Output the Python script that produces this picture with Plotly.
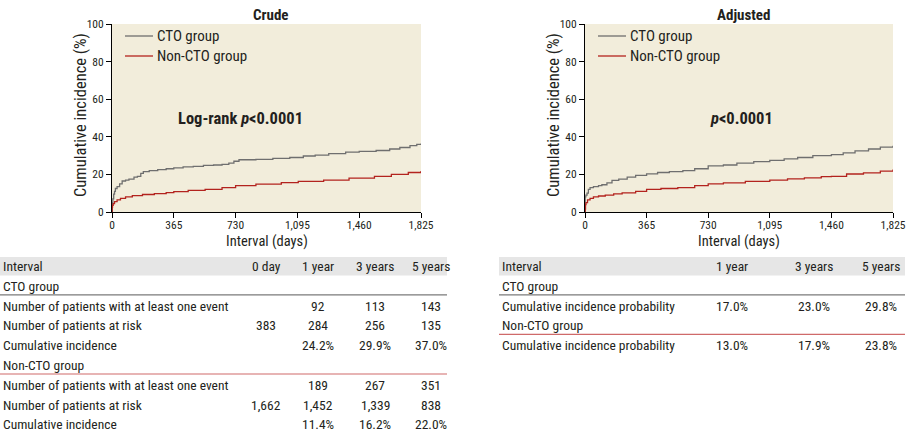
import plotly.graph_objects as go

# ---------------- data ----------------
crude_cto_days = [0, 2, 5, 10, 15, 20, 30, 45, 60, 80, 100, 130, 150, 170, 185, 220, 270, 320, 365, 420,
                  480, 540, 600, 650, 690, 720, 750, 850, 950, 1050, 1130, 1200, 1280, 1380, 1460, 1560,
                  1640, 1700, 1760, 1800, 1825]
crude_cto_vals = [0, 5, 7, 9.5, 11, 12.5, 13.5, 15, 16.5, 17, 17.5, 18.5, 19, 20.5, 21.5, 22, 22.5, 23, 23.5, 24,
                  24.3, 24.8, 25, 25.3, 26, 27, 27.8, 28, 28.5, 29, 29.8, 30.3, 31, 31.8, 32.3, 32.7,
                  33.5, 34.3, 35.3, 36, 36.5]

crude_non_days = [0, 1, 3, 7, 15, 30, 50, 80, 120, 180, 250, 320, 365, 450, 550, 650, 730, 850, 1000, 1100,
                  1250, 1400, 1550, 1650, 1750, 1825]
crude_non_vals = [0, 2.5, 3.5, 4.5, 5.5, 6.5, 7.3, 8, 8.7, 9.3, 9.8, 10.3, 10.8, 11.5, 12, 13, 14, 14.8, 15.6, 16.3,
                  17, 18, 19, 20, 21, 21.8]

adj_cto_days = [0, 1, 5, 12, 20, 30, 50, 80, 100, 130, 160, 200, 250, 300, 365, 430, 500, 580, 650, 730,
                820, 900, 1000, 1095, 1180, 1260, 1350, 1460, 1530, 1600, 1680, 1750, 1825]
adj_cto_vals = [0, 8, 9, 10, 12, 13, 13.5, 14, 14.5, 15.5, 16.8, 17.5, 18.5, 19.5, 20.3, 21, 21.5, 22, 23, 24.5,
                25, 26, 26.8, 27.5, 28.3, 29, 30, 30.5, 31.5, 32.5, 33.5, 34.5, 35.2]

adj_non_days = [0, 1, 3, 6, 15, 30, 50, 80, 120, 170, 220, 300, 365, 450, 550, 650, 730, 820, 950, 1095,
                1200, 1300, 1400, 1460, 1550, 1650, 1750, 1825]
adj_non_vals = [0, 1.5, 4, 5, 6.5, 7.3, 8, 8.5, 9, 9.6, 10.2, 11, 12, 12.5, 13, 14, 15, 15.5, 16.3, 17,
                17.6, 18.2, 18.8, 19, 20.2, 20.8, 21.7, 22.6]

x_tickvals = [0, 365, 730, 1095, 1460, 1825]
x_ticktext = ["0", "365", "730", "1,095", "1,460", "1,825"]
y_tickvals = [0, 20, 40, 60, 80, 100]

series_names = ["CTO group", "Non-CTO group"]

left_header = ["Interval", "0 day", "1 year", "3 years", "5 years"]
left_rows = [
    ("CTO group", None),
    ("Number of patients with at least one event", ["", "92", "113", "143"]),
    ("Number of patients at risk", ["383", "284", "256", "135"]),
    ("Cumulative incidence", ["", "24.2%", "29.9%", "37.0%"]),
    ("Non-CTO group", None),
    ("Number of patients with at least one event", ["", "189", "267", "351"]),
    ("Number of patients at risk", ["1,662", "1,452", "1,339", "838"]),
    ("Cumulative incidence", ["", "11.4%", "16.2%", "22.0%"]),
]
right_header = ["Interval", "1 year", "3 years", "5 years"]
right_rows = [
    ("CTO group", None),
    ("Cumulative incidence probability", ["17.0%", "23.0%", "29.8%"]),
    ("Non-CTO group", None),
    ("Cumulative incidence probability", ["13.0%", "17.9%", "23.8%"]),
]

# ---------------- styling ----------------
W, H = 910, 434
FONT = "Roboto Condensed, sans-serif"
TXT = "#231f20"
GRAY = "#6f6f6f"
RED = "#b3231e"
BG = "#f2eddb"
TS = 13.5  # table font size


def px(x):
    return x / W


def py(y):
    return 1 - y / H


fig = go.Figure()

panels = [
    dict(xa="x", ya="y", x0=112, x1=421, title="Crude", ptext="Log-rank <i>p</i><0.0001",
         ptx=240, cto=(crude_cto_days, crude_cto_vals), non=(crude_non_days, crude_non_vals)),
    dict(xa="x2", ya="y2", x0=585, x1=893, title="Adjusted", ptext="<i>p</i><0.0001",
         ptx=741, cto=(adj_cto_days, adj_cto_vals), non=(adj_non_days, adj_non_vals)),
]
Y_TOP, Y_BOT = 24, 212

annotations = []
shapes = []

for i, p in enumerate(panels):
    for (d, v), name, col in [(p["cto"], series_names[0], GRAY), (p["non"], series_names[1], RED)]:
        fig.add_trace(go.Scatter(x=d, y=v, mode="lines", line=dict(color=col, width=1.3, shape="hv"),
                                 name=name, xaxis=p["xa"], yaxis=p["ya"], showlegend=False,
                                 hoverinfo="skip"))
    axkey = "" if i == 0 else "2"
    fig.update_layout(**{
        "xaxis" + axkey: dict(domain=[px(p["x0"]), px(p["x1"])], range=[0, 1825], anchor="y" + axkey,
                              tickvals=x_tickvals, ticktext=x_ticktext, ticks="outside", ticklen=5,
                              tickcolor="black", showline=True, linecolor="black", linewidth=1,
                              showgrid=False, zeroline=False, automargin=False, ticklabelstandoff=-3,
                              tickfont=dict(size=11.5, color=TXT, family=FONT),
                              fixedrange=True),
        "yaxis" + axkey: dict(domain=[py(Y_BOT), py(Y_TOP)], range=[0, 100], anchor="x" + axkey,
                              tickvals=y_tickvals, ticks="outside", ticklen=5, tickcolor="black",
                              showline=True, linecolor="black", linewidth=1, showgrid=False, zeroline=False,
                              automargin=False,
                              tickfont=dict(size=11.5, color=TXT, family=FONT),
                              fixedrange=True),
    })
    # x-axis title
    annotations.append(dict(text="Interval (days)", x=px((p["x0"] + p["x1"]) / 2), y=py(241),
                            xref="paper", yref="paper", showarrow=False,
                            xanchor="center", yanchor="middle", font=dict(size=14.5, color=TXT, family=FONT)))
    # y-axis title
    annotations.append(dict(text="Cumulative incidence (%)", x=px(p["x0"] - 32), y=py((Y_TOP + Y_BOT) / 2 - 3),
                            xref="paper", yref="paper", showarrow=False, textangle=-90,
                            xanchor="center", yanchor="middle", font=dict(size=16.5, color=TXT, family=FONT)))
    # title
    annotations.append(dict(text="<b>%s</b>" % p["title"], x=px((p["x0"] + p["x1"]) / 2 + 4), y=py(15),
                            xref="paper", yref="paper", showarrow=False, xanchor="center", yanchor="middle",
                            font=dict(size=15, color=TXT, family=FONT)))
    # p value
    annotations.append(dict(text="<b>%s</b>" % p["ptext"], x=px(p["ptx"]), y=py(118), xref="paper",
                            yref="paper", showarrow=False, xanchor="center", yanchor="middle",
                            font=dict(size=16.5, color=TXT, family=FONT)))
    # legend
    for k, (name, col) in enumerate(zip(series_names, [GRAY, RED])):
        ly = 36 + k * 20
        shapes.append(dict(type="line", xref="paper", yref="paper", x0=px(p["x0"] + 13), x1=px(p["x0"] + 41),
                           y0=py(ly), y1=py(ly), line=dict(color=col, width=1.3)))
        annotations.append(dict(text=name, x=px(p["x0"] + 43), y=py(ly), xref="paper", yref="paper",
                                showarrow=False, xanchor="left", yanchor="middle",
                                font=dict(size=15, color=TXT, family=FONT)))

fig.update_layout(plot_bgcolor=BG)


# ---------------- tables ----------------
def table(header, rows, x_left, x_right, col_centers, row0=266, step=19.8):
    shapes.append(dict(type="rect", xref="paper", yref="paper", x0=px(x_left - 3), x1=px(x_right),
                       y0=py(257), y1=py(275.5), fillcolor="#e6e6e6", line=dict(width=0), layer="below"))
    annotations.append(dict(text=header[0], x=px(x_left - 2), y=py(row0), xref="paper", yref="paper",
                            showarrow=False, xanchor="left", yanchor="middle",
                            font=dict(size=TS, color=TXT, family=FONT)))
    for c, h in zip(col_centers, header[1:]):
        annotations.append(dict(text=h, x=px(c), y=py(row0), xref="paper", yref="paper", showarrow=False,
                                xanchor="center", yanchor="middle", font=dict(size=TS, color=TXT, family=FONT)))
    for r, (label, vals) in enumerate(rows):
        yy = row0 + (r + 1) * step
        annotations.append(dict(text=label, x=px(x_left - 2), y=py(yy), xref="paper", yref="paper",
                                showarrow=False, xanchor="left", yanchor="middle",
                                font=dict(size=TS, color=TXT, family=FONT)))
        if vals:
            for c, v in zip(col_centers, vals):
                if v:
                    annotations.append(dict(text=v, x=px(c), y=py(yy), xref="paper", yref="paper",
                                            showarrow=False, xanchor="center", yanchor="middle",
                                            font=dict(size=TS, color=TXT, family=FONT)))
        if vals is None:
            ly = yy + 9
            col = "#7a7a7a" if r == 0 else "#cf6a6a"
            shapes.append(dict(type="line", xref="paper", yref="paper", x0=px(x_left - 3), x1=px(x_right),
                               y0=py(ly), y1=py(ly), line=dict(color=col, width=1.2)))


table(left_header, left_rows, 3, 447, [266, 318, 375, 431])
table(right_header, right_rows, 502, 905, [732, 814, 881])

fig.update_layout(
    width=W, height=H, margin=dict(l=0, r=0, t=0, b=0, autoexpand=False),
    paper_bgcolor="white", annotations=annotations, shapes=shapes,
    font=dict(family=FONT, color=TXT),
)

fig.write_html("out.html", include_plotlyjs=True, config={"displayModeBar": False, "staticPlot": True},
               post_script="document.body.style.margin='0';document.body.style.overflow='hidden';")
